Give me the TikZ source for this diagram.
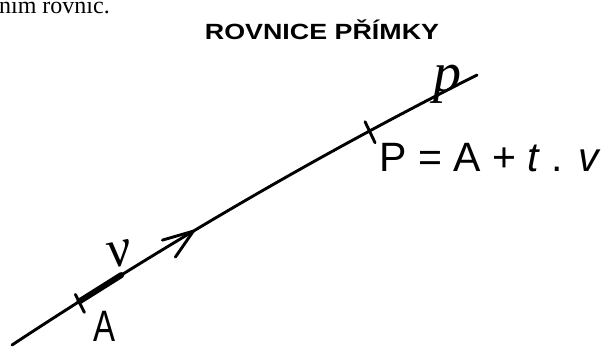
\documentclass[tikz,border=0pt]{standalone}
\usepackage{fontspec}
\setmainfont{Liberation Serif}
\newfontfamily\hand{Liberation Sans}
\begin{document}
\begin{tikzpicture}[x=1pt,y=-1pt,line cap=round,line join=round,
  stroke/.style={line width=2.9pt,black},
  thickseg/.style={line width=6pt,black},
  lbl/.style={inner sep=0pt,text=black}]
\useasboundingbox (0,0) rectangle (602,351);
\fill[white] (0,0) rectangle (602,351);
\clip (0,0) rectangle (602,351);
% cropped line of text at the top
\node[lbl,anchor=base east,font=\fontsize{24}{24}\selectfont] (toptext) at (110,13) {ním rovnic.};
% title
\node[lbl,anchor=base,font=\hand\bfseries\fontsize{22}{22}\selectfont,xscale=1.22] (title) at (322,39) {ROVNICE PŘÍMKY};
% the line p
\coordinate (s) at (12,345);
\coordinate (e) at (477,75);
\draw[stroke] (s) .. controls (167,243) and (322,153) .. (e)
  coordinate[pos=0.145] (A)
  coordinate[pos=0.235] (vend)
  coordinate[pos=0.39] (tip)
  coordinate[pos=0.77] (P);
% vector v (thick part and arrowhead)
\draw[thickseg] (A) -- (vend);
\draw[stroke] (tip) ++(-31,9) -- (tip) -- ++(-18,26);
% ticks
\draw[stroke] (A) ++(-4,-7) -- ++(9,18);
\draw[stroke] (P) ++(-5,-9) -- ++(10,21);
% labels
\node[lbl,font=\itshape\fontsize{54}{54}\selectfont,rotate=12] (vlab) at (120,254) {v};
\node[lbl,font=\hand\fontsize{44}{44}\selectfont,xscale=0.75] (Alab) at (105,326) {A};
\node[lbl,font=\itshape\fontsize{56}{56}\selectfont] (plab) at (447,84) {p};
\node[lbl,anchor=base,font=\hand\fontsize{41}{41}\selectfont] (eq) at (490,171) {P = A + \textit{t} . \textit{v}};
\end{tikzpicture}
\end{document}
